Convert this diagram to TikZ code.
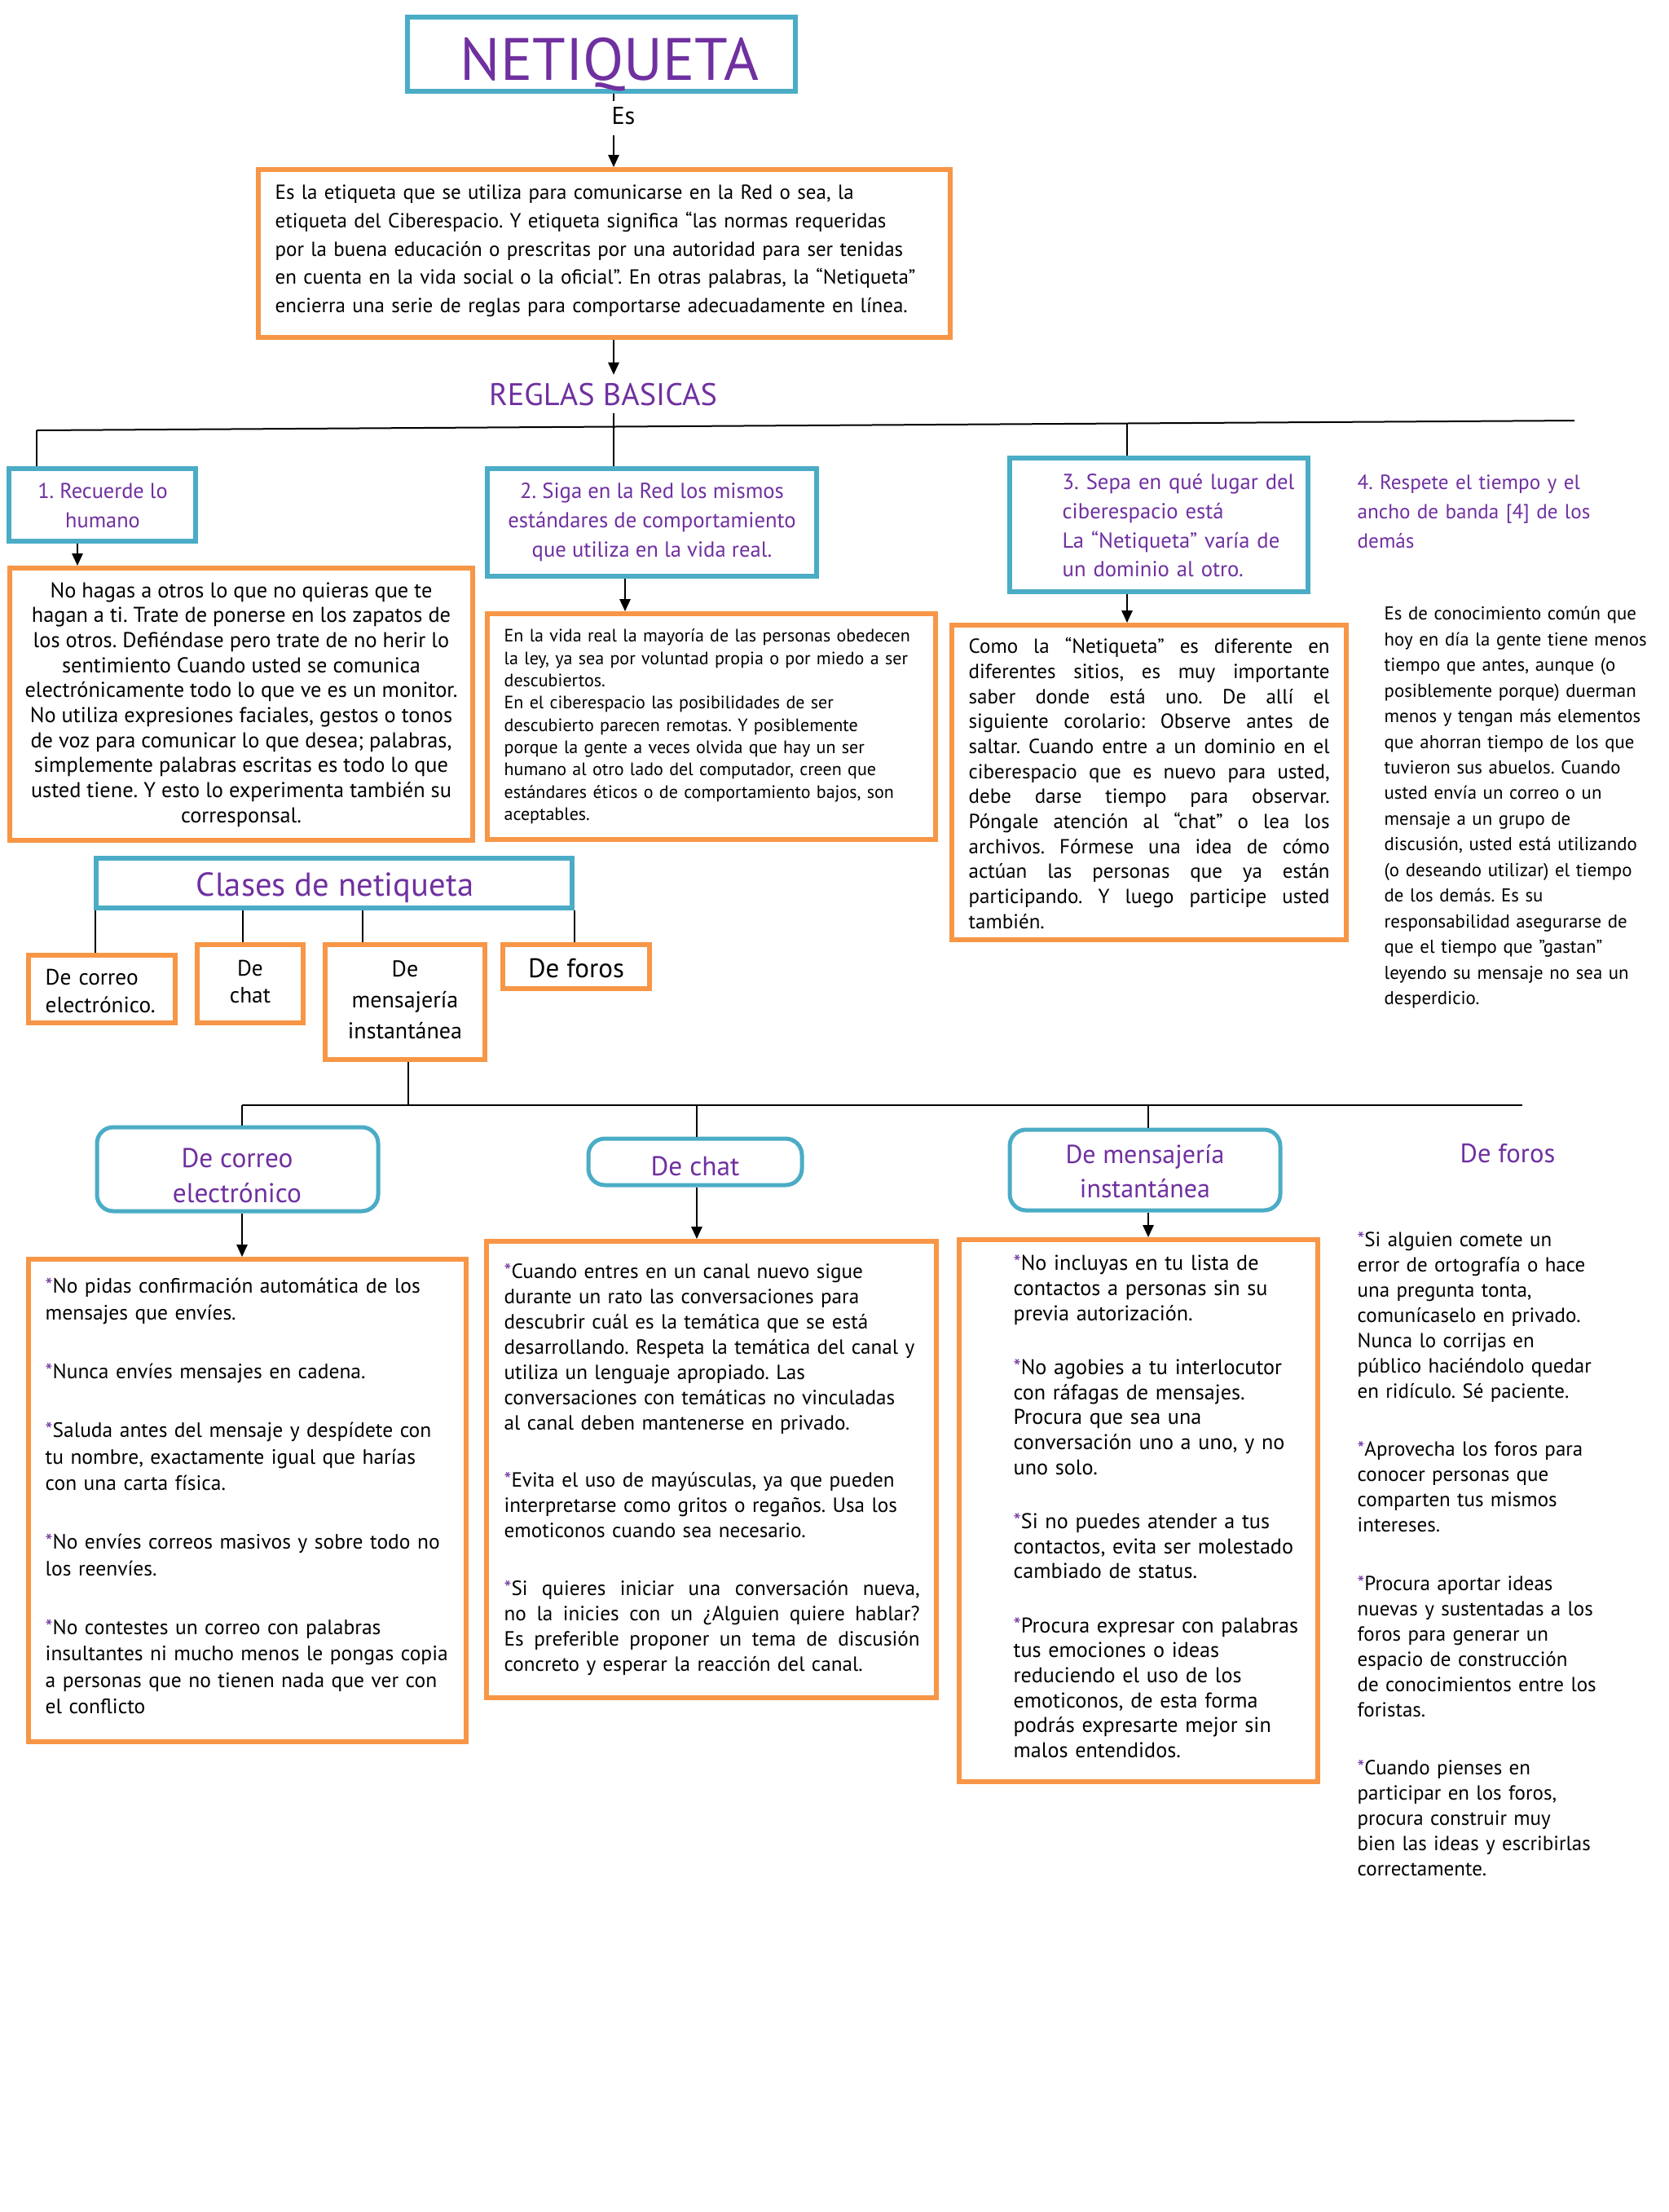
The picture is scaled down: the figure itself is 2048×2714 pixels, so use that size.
\documentclass[tikz,border=0pt]{standalone}
\usepackage{fontspec}
\setmainfont{PT Sans}
\usetikzlibrary{arrows.meta,fit}
\definecolor{tealb}{HTML}{4BACC6}
\definecolor{orng}{HTML}{F79646}
\definecolor{purp}{HTML}{7030A0}
\frenchspacing
\newcommand\pst{\textcolor{purp}{*}}
\newcommand\jA[1]{\makebox[132.9pt][s]{\spaceskip=0.25em plus 1fil\relax #1}}
\newcommand\jB[1]{\makebox[153pt][s]{\spaceskip=0.25em plus 1fil\relax #1}}
\begin{document}
\begin{tikzpicture}[x=0.3pt,y=-0.3pt,
 tbox/.style={inner sep=0pt, draw=tealb, line width=1.8pt},
 obox/.style={inner sep=0pt, draw=orng, line width=1.8pt},
 rbox/.style={inner sep=0pt, draw=tealb, line width=1.5pt, rounded corners=6pt},
 conn/.style={line width=0.6pt},
 arr/.style={line width=0.6pt, -{Triangle[length=4.5pt,width=4pt]}},
 para/.style n args={3}{anchor=north west, inner sep=0pt, align=left, text width=#1, font=\fontsize{#2}{#3}\selectfont, yshift=0.7*#3pt},
 ctext/.style 2 args={inner sep=0pt, align=center, font=\fontsize{#1}{#2}\selectfont},
]
\useasboundingbox (0,0) rectangle (2048,2714);
\fill[white] (0,0) rectangle (2048,2714);

% ---------- boxes ----------
\node[tbox, fit={(500,21) (976,112)}] (net) {};
\node[obox, fit={(317,208) (1166,414)}] (def) {};
\node[tbox, fit={(11,575) (240,664)}] (b1) {};
\node[obox, fit={(12,697) (580,1031)}] (b1b) {};
\node[tbox, fit={(598,575) (1002,707)}] (b2) {};
\node[obox, fit={(598,753) (1148,1030)}] (b2b) {};
\node[tbox, fit={(1239,562) (1605,726)}] (b3) {};
\node[obox, fit={(1168,767) (1652,1153)}] (b3b) {};
\node[tbox, fit={(118,1053) (702,1114)}] (cls) {};
\node[obox, fit={(35,1172) (215,1255)}] (c1) {};
\node[obox, fit={(242,1159) (372,1255)}] (c2) {};
\node[obox, fit={(399,1159) (595,1300)}] (c3) {};
\node[obox, fit={(617,1159) (797,1213)}] (c4) {};
\node[rbox, fit={(119,1383) (464,1486)}] (h1) {};
\node[rbox, fit={(722,1397) (984,1454)}] (h2) {};
\node[rbox, fit={(1239,1386) (1571,1485)}] (h3) {};
\node[obox, fit={(35,1545) (572,2137)}] (o1) {};
\node[obox, fit={(597,1523) (1149,2083)}] (o2) {};
\node[obox, fit={(1177,1521) (1617,2186)}] (o3) {};

% ---------- titles ----------
\node[anchor=base, inner sep=0pt, font=\fontsize{22}{24}\selectfont, text=purp] (nett) at (748,98) {NETIQUETA};
\node[anchor=base, inner sep=0pt, outer sep=3pt, font=\fontsize{11.5}{13}\selectfont, text=purp] (regl) at (740,497) {REGLAS BASICAS};
\node[anchor=base, inner sep=0pt, font=\fontsize{12.2}{14}\selectfont, text=purp] (clt) at (411,1099) {Clases de netiqueta};
\node[anchor=base, inner sep=0pt, font=\fontsize{9.8}{12}\selectfont, text=purp] (fort) at (1850,1426) {De foros};

% ---------- connectors ----------
\coordinate (xA) at (753,0);
\draw[arr] (net.south -| xA) -- (def.north -| xA);
\node[ctext={9}{10.8}, fill=white, inner sep=1pt] (es) at (765,145) {\strut Es\strut};
\draw[arr] (def.south -| xA) -- (regl.north -| xA);
\draw[conn] (regl.south -| xA) -- (b2.north -| xA);
\coordinate (bL) at (45,528);
\coordinate (bR) at (1932,516);
\coordinate (bM) at (1383,519.5);
\draw[conn] (bL) -- (bR);
\draw[conn] (bL) -- (bL |- b1.north);
\draw[conn] (bM) -- (bM |- b3.north);
\coordinate (x1) at (95,0);
\coordinate (x2) at (767,0);
\draw[arr] (b1.south -| x1) -- (b1b.north -| x1);
\draw[arr] (b2.south -| x2) -- (b2b.north -| x2);
\draw[arr] (b3.south -| bM) -- (b3b.north -| bM);
\coordinate (k1) at (117,0);
\coordinate (k2) at (298,0);
\coordinate (k3) at (445,0);
\coordinate (k4) at (705,0);
\draw[conn] (cls.south -| k1) -- (c1.north -| k1);
\draw[conn] (cls.south -| k2) -- (c2.north -| k2);
\draw[conn] (cls.south -| k3) -- (c3.north -| k3);
\draw[conn] (cls.south -| k4) -- (c4.north -| k4);
\coordinate (mL) at (297,1356);
\coordinate (mR) at (1868,1356);
\coordinate (m3) at (501,1356);
\coordinate (m2) at (855,1356);
\coordinate (m4) at (1409,1356);
\draw[conn] (c3.south -| m3) -- (m3);
\draw[conn] (mL) -- (mR);
\draw[conn] (mL) -- (mL |- h1.north);
\draw[conn] (m2) -- (m2 |- h2.north);
\draw[conn] (m4) -- (m4 |- h3.north);
\draw[arr] (h1.south -| mL) -- (o1.north -| mL);
\draw[arr] (h2.south -| m2) -- (o2.north -| m2);
\draw[arr] (h3.south -| m4) -- (o3.north -| m4);

% ---------- texts ----------
\node[para={290pt}{7.5}{10.4}] (deft) at (337,244) {\strut Es la etiqueta que se utiliza para comunicarse en la Red o sea, la\\
etiqueta del Ciberespacio. Y etiqueta significa “las normas requeridas\\
por la buena educación o prescritas por una autoridad para ser tenidas\\
en cuenta en la vida social o la oficial”. En otras palabras, la “Netiqueta”\\
encierra una serie de reglas para comportarse adecuadamente en línea.};

\node[ctext={7.9}{11}, text=purp] (b1t) at (126,622) {\strut 1. Recuerde lo\\ humano\strut};

\node[ctext={7.9}{9.2}] (b1bt) at (296,865) {\strut No hagas a otros lo que no quieras que te\\
hagan a ti. Trate de ponerse en los zapatos de\\
los otros. Defiéndase pero trate de no herir lo\\
sentimiento Cuando usted se comunica\\
electrónicamente todo lo que ve es un monitor.\\
No utiliza expresiones faciales, gestos o tonos\\
de voz para comunicar lo que desea; palabras,\\
simplemente palabras escritas es todo lo que\\
usted tiene. Y esto lo experimenta también su\\
corresponsal.\strut};

\node[ctext={8}{10.8}, text=purp] (b2t) at (800,640.5) {\strut 2. Siga en la Red los mismos\\
estándares de comportamiento\\
que utiliza en la vida real.\strut};

\node[para={200pt}{6.6}{8.2}] (b2bt) at (618,787) {\strut En la vida real la mayoría de las personas obedecen\\
la ley, ya sea por voluntad propia o por miedo a ser\\
descubiertos.\\
En el ciberespacio las posibilidades de ser\\
descubierto parecen remotas. Y posiblemente\\
porque la gente a veces olvida que hay un ser\\
humano al otro lado del computador, creen que\\
estándares éticos o de comportamiento bajos, son\\
aceptables.};

\node[para={150pt}{8}{10.7}, text=purp] (b3t) at (1303,600) {\strut 3. Sepa en qué lugar del\\
ciberespacio está\\
La “Netiqueta” varía de\\
un dominio al otro.};

\node[para={150pt}{7.5}{9.2}] (b3bt) at (1188,801) {\strut\jA{Como la “Netiqueta” es diferente en}\\
\jA{diferentes sitios, es muy importante}\\
\jA{saber donde está uno. De allí el}\\
\jA{siguiente corolario: Observe antes de}\\
\jA{saltar. Cuando entre a un dominio en el}\\
\jA{ciberespacio que es nuevo para usted,}\\
\jA{debe darse tiempo para observar.}\\
\jA{Póngale atención al “chat” o lea los}\\
\jA{archivos. Fórmese una idea de cómo}\\
\jA{actúan las personas que ya están}\\
\jA{participando. Y luego participe usted}\\
también.};

\node[para={150pt}{7.55}{10.8}, text=purp] (b4t) at (1665,600) {\strut 4. Respete el tiempo y el\\
ancho de banda [4] de los\\
demás};

\node[para={150pt}{6.85}{9.44}] (t4t) at (1698,760) {\strut Es de conocimiento común que\\
hoy en día la gente tiene menos\\
tiempo que antes, aunque (o\\
posiblemente porque) duerman\\
menos y tengan más elementos\\
que ahorran tiempo de los que\\
tuvieron sus abuelos. Cuando\\
usted envía un correo o un\\
mensaje a un grupo de\\
discusión, usted está utilizando\\
(o deseando utilizar) el tiempo\\
de los demás. Es su\\
responsabilidad asegurarse de\\
que el tiempo que "gastan"\\
leyendo su mensaje no sea un\\
desperdicio.};

\node[para={80pt}{8.2}{10.2}] (c1t) at (55,1208) {\strut De correo\\ electrónico.};
\node[ctext={8.2}{9.9}] (c2t) at (307,1207) {\strut De\\ chat\strut};
\node[ctext={8.4}{11.4}] (c3t) at (497,1229) {\strut De\\ mensajería\\ instantánea\strut};
\node[ctext={9.9}{11.4}] (c4t) at (707,1192) {\strut De foros\strut};

\node[ctext={10}{12.9}, text=purp] (h1t) at (291,1445) {\strut De correo\\ electrónico\strut};
\node[ctext={10}{12}, text=purp] (h2t) at (853,1434) {\strut De chat\strut};
\node[ctext={9.6}{12.6}, text=purp] (h3t) at (1405,1440) {\strut De mensajería\\ instantánea\strut};

\node[para={200pt}{7.65}{9.7}] (o1t) at (55,1586) {\strut\pst No pidas confirmación automática de los\\
mensajes que envíes.\\[12pt]
\pst Nunca envíes mensajes en cadena.\\[12pt]
\pst Saluda antes del mensaje y despídete con\\
tu nombre, exactamente igual que harías\\
con una carta física.\\[12pt]
\pst No envíes correos masivos y sobre todo no\\
los reenvíes.\\[12pt]
\pst No contestes un correo con palabras\\
insultantes ni mucho menos le pongas copia\\
a personas que no tienen nada que ver con\\
el conflicto};

\node[para={200pt}{7.55}{9.3}] (o2t) at (618,1567.5) {\strut\pst Cuando entres en un canal nuevo sigue\\
durante un rato las conversaciones para\\
descubrir cuál es la temática que se está\\
desarrollando. Respeta la temática del canal y\\
utiliza un lenguaje apropiado. Las\\
conversaciones con temáticas no vinculadas\\
al canal deben mantenerse en privado.\\[11.9pt]
\pst Evita el uso de mayúsculas, ya que pueden\\
interpretarse como gritos o regaños. Usa los\\
emoticonos cuando sea necesario.\\[11.9pt]
\jB{\pst Si quieres iniciar una conversación nueva,}\\
\jB{no la inicies con un ¿Alguien quiere hablar?}\\
\jB{Es preferible proponer un tema de discusión}\\
concreto y esperar la reacción del canal.};

\node[para={200pt}{7.85}{9.2}] (o3t) at (1243,1558) {\strut\pst No incluyas en tu lista de\\
contactos a personas sin su\\
previa autorización.\\[10.7pt]
\pst No agobies a tu interlocutor\\
con ráfagas de mensajes.\\
Procura que sea una\\
conversación uno a uno, y no\\
uno solo.\\[10.7pt]
\pst Si no puedes atender a tus\\
contactos, evita ser molestado\\
cambiado de status.\\[10.7pt]
\pst Procura expresar con palabras\\
tus emociones o ideas\\
reduciendo el uso de los\\
emoticonos, de esta forma\\
podrás expresarte mejor sin\\
malos entendidos.};

\node[para={200pt}{7.5}{9.27}] (fot) at (1665,1529) {\strut\pst Si alguien comete un\\
error de ortografía o hace\\
una pregunta tonta,\\
comunícaselo en privado.\\
Nunca lo corrijas en\\
público haciéndolo quedar\\
en ridículo. Sé paciente.\\[12.3pt]
\pst Aprovecha los foros para\\
conocer personas que\\
comparten tus mismos\\
intereses.\\[12.3pt]
\pst Procura aportar ideas\\
nuevas y sustentadas a los\\
foros para generar un\\
espacio de construcción\\
de conocimientos entre los\\
foristas.\\[12.3pt]
\pst Cuando pienses en\\
participar en los foros,\\
procura construir muy\\
bien las ideas y escribirlas\\
correctamente.};
\end{tikzpicture}
\end{document}
